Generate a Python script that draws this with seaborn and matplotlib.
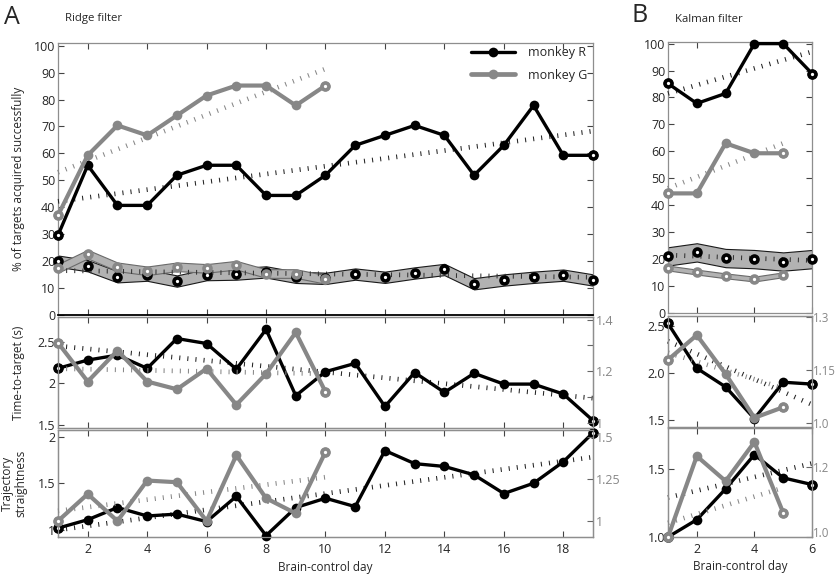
import numpy as np
import matplotlib
matplotlib.use('Agg')
import matplotlib.pyplot as plt
import seaborn as sns

sns.set_style('ticks')
plt.rcParams['font.family'] = ['Open Sans', 'DejaVu Sans']
plt.rcParams['font.size'] = 8

BLACK = '#000000'
GRAY = '#878787'
SPINE = '#8e8e8e'
BAND = '#b2b2b2'

# ---------------- Ridge filter (A) ----------------
ridge_days_r = np.arange(1, 20)
ridge_days_g = np.arange(1, 11)

ridge_success_r = [29.6, 55.6, 40.7, 40.7, 51.9, 55.6, 55.6, 44.4, 44.4, 51.9,
                   63.0, 66.7, 70.4, 66.7, 51.9, 63.0, 77.8, 59.3, 59.3]
ridge_success_g = [37.0, 59.3, 70.4, 66.7, 74.1, 81.5, 85.2, 85.2, 77.8, 85.2]
ridge_chance_r = [20.0, 18.3, 14.2, 14.8, 12.6, 15.0, 15.2, 16.0, 14.0, 13.6,
                  15.2, 14.0, 15.6, 16.9, 11.6, 13.0, 14.0, 14.8, 13.0]
ridge_chance_g = [17.3, 22.6, 17.9, 16.4, 17.9, 17.3, 18.5, 15.4, 15.4, 13.2]

ridge_time_r = [2.18, 2.28, 2.34, 2.18, 2.54, 2.48, 2.17, 2.65, 1.85, 2.14,
                2.24, 1.72, 2.13, 1.89, 2.12, 1.99, 1.99, 1.87, 1.55]
ridge_time_g = [1.31, 1.16, 1.28, 1.16, 1.13, 1.21, 1.07, 1.19, 1.35, 1.12]  # right axis

ridge_straight_r = [1.02, 1.11, 1.24, 1.15, 1.17, 1.09, 1.36, 0.94, 1.24, 1.34,
                    1.25, 1.85, 1.71, 1.68, 1.59, 1.39, 1.50, 1.73, 2.04]
ridge_straight_g = [1.00, 1.16, 1.00, 1.24, 1.23, 1.00, 1.39, 1.135, 1.045, 1.41]  # right axis

# linear trends (start value, end value)
ridge_success_trend_r = [42.2, 68.3]
ridge_success_trend_g = [53.0, 91.4]
ridge_chance_trend_r = [16.5, 14.0]
ridge_time_trend_r = [2.45, 1.82]
ridge_time_trend_g = [1.21, 1.19]
ridge_straight_trend_r = [1.00, 1.78]
ridge_straight_trend_g = [1.06, 1.26]

# ---------------- Kalman filter (B) ----------------
kalman_days_r = np.arange(1, 7)
kalman_days_g = np.arange(1, 6)

kalman_success_r = [85.2, 77.8, 81.5, 100.0, 100.0, 88.9]
kalman_success_g = [44.4, 44.4, 63.0, 59.3, 59.3]
kalman_chance_r = [21.0, 22.5, 20.4, 20.0, 19.1, 20.0]
kalman_chance_g = [16.7, 15.2, 13.8, 12.6, 14.2]

kalman_time_r = [2.53, 2.05, 1.85, 1.51, 1.90, 1.88]
kalman_time_g = [1.18, 1.25, 1.14, 1.016, 1.046]  # right axis

kalman_straight_r = [1.00, 1.127, 1.353, 1.605, 1.434, 1.385]
kalman_straight_g = [1.00, 1.23, 1.159, 1.27, 1.069]  # right axis

kalman_success_trend_r = [81.5, 97.0]
kalman_success_trend_g = [46.3, 63.0]
kalman_chance_trend_r = [21.5, 19.5]
kalman_time_trend_r = [2.34, 1.66]
kalman_time_trend_g = [1.20, 1.10]
kalman_straight_trend_r = [1.29, 1.54]
kalman_straight_trend_g = [1.04, 1.14]

TICK_FS = 9
LABEL_FS = 8.5


def series(ax, x, y, color, lw=2.4):
    sns.lineplot(x=x, y=y, ax=ax, color=color, lw=lw, marker='o', markersize=7,
                 markeredgecolor=color, markeredgewidth=0, legend=False, zorder=4)
    # first / last points drawn as open rings
    ax.plot([x[0], x[-1]], [y[0], y[-1]], 'o', mfc='white', mec=color,
            ms=5, mew=2.6, zorder=5)


def trend(ax, x, ends, color):
    ax.plot([x[0], x[-1]], ends, color=color, lw=3.4, ls=(0, (0.22, 1.5)),
            solid_capstyle='butt', dash_capstyle='butt', zorder=3)


def chance(ax, x, y, half, edge, ring):
    y = np.asarray(y)
    ax.fill_between(x, y - half, y + half, facecolor=BAND, edgecolor=edge,
                    lw=0.8, zorder=2)
    ax.plot(x, y, 'o', mfc='white', mec=ring, ms=5, mew=2.6, zorder=5)


def style(ax, xlim, xticks, ylim, yticks, ylabels=None, right=True, labelx=False):
    ax.set_xlim(xlim)
    ax.set_ylim(ylim)
    ax.set_xticks(xticks)
    ax.set_yticks(yticks)
    if ylabels is not None:
        ax.set_yticklabels(ylabels)
    ax.set_xlabel('')
    ax.set_ylabel('')
    for s in ax.spines.values():
        s.set_color(SPINE)
        s.set_linewidth(0.9)
    ax.tick_params(direction='in', length=4, width=0.8, color='#444444',
                   top=True, right=right, labelsize=TICK_FS, pad=2,
                   labelbottom=labelx)
    ax.tick_params(axis='x', pad=4)


def twin(ax, ylim, yticks, ylabels, minor=None, fs=TICK_FS, pad=2):
    tw = ax.twinx()
    tw.set_ylim(ylim)
    tw.set_yticks(yticks)
    tw.set_yticklabels(ylabels)
    if minor is not None:
        tw.set_yticks(minor, minor=True)
    for s in tw.spines.values():
        s.set_color(SPINE)
        s.set_linewidth(0.9)
    tw.tick_params(axis='y', which='both', direction='in', length=4, width=0.8,
                   color='#666666', labelcolor=GRAY, labelsize=fs, pad=pad)
    return tw


W, H = 837, 574
fig = plt.figure(figsize=(W / 100, H / 100), dpi=100)


def box(l, r, t, b):
    return [l / W, 1 - b / H, (r - l) / W, (b - t) / H]


# ---------------- panel A ----------------
xa = (1, 19)
xta = list(range(2, 19, 2))
a1 = fig.add_axes(box(58, 593, 43, 315))
a2 = fig.add_axes(box(58, 593, 317, 428))
a3 = fig.add_axes(box(58, 593, 430, 537))

chance(a1, ridge_days_r, ridge_chance_r, 2.1, '#1a1a1a', BLACK)
chance(a1, ridge_days_g, ridge_chance_g, 1.6, '#6a6a6a', GRAY)
trend(a1, ridge_days_r, ridge_chance_trend_r, '#333333')
trend(a1, ridge_days_r, ridge_success_trend_r, '#222222')
trend(a1, ridge_days_g, ridge_success_trend_g, GRAY)
series(a1, ridge_days_r, ridge_success_r, BLACK)
series(a1, ridge_days_g, ridge_success_g, GRAY, lw=3)
style(a1, xa, xta, (0, 101), list(range(0, 101, 10)))
a1.spines['bottom'].set_color(BLACK)
a1.spines['bottom'].set_linewidth(1.3)
a1.set_ylabel('% of targets acquired successfully', fontsize=LABEL_FS)
a1.yaxis.set_label_coords(-0.062, 0.5)

leg_r = plt.Line2D([], [], color=BLACK, lw=2.4, marker='o', ms=7, mew=0)
leg_g = plt.Line2D([], [], color=GRAY, lw=3.4, marker='o', ms=7, mew=0)
a1.legend([leg_r, leg_g], ['monkey R', 'monkey G'], frameon=False,
          loc='upper right', bbox_to_anchor=(1.005, 1.02), handlelength=3.5,
          fontsize=9, labelspacing=0.75, handletextpad=1.0, borderaxespad=0.3)

style(a2, xa, xta, (1.46, 2.80), [1.5, 2, 2.5], ['1.5', '2', '2.5'], right=False)
trend(a2, ridge_days_r, ridge_time_trend_r, '#222222')
series(a2, ridge_days_r, ridge_time_r, BLACK)
t2 = twin(a2, (0.98, 1.41), [1, 1.2, 1.4], ['1', '1.2', '1.4'], minor=[1.1, 1.3])
trend(t2, ridge_days_g, ridge_time_trend_g, GRAY)
series(t2, ridge_days_g, ridge_time_g, GRAY, lw=3)
t2.set_ylabel('')
a2.set_ylabel('Time-to-target (s)', fontsize=LABEL_FS)
a2.yaxis.set_label_coords(-0.062, 0.5)

style(a3, xa, xta, (0.925, 2.07), [1, 1.5, 2], ['1', '1.5', '2'], right=False, labelx=True)
trend(a3, ridge_days_r, ridge_straight_trend_r, '#222222')
series(a3, ridge_days_r, ridge_straight_r, BLACK)
t3 = twin(a3, (0.905, 1.54), [1, 1.25, 1.5], ['1', '1.25', '1.5'])
trend(t3, ridge_days_g, ridge_straight_trend_g, GRAY)
series(t3, ridge_days_g, ridge_straight_g, GRAY, lw=3)
t3.set_ylabel('')
a3.set_ylabel('Trajectory\nstraightness', fontsize=LABEL_FS, linespacing=1.05)
a3.yaxis.set_label_coords(-0.058, 0.5)
a3.set_xlabel('Brain-control day', fontsize=LABEL_FS)
a3.xaxis.set_label_coords(0.5, -0.22)

# ---------------- panel B ----------------
xb = (1, 6)
xtb = [2, 4, 6]
b1 = fig.add_axes(box(668, 812, 42, 313))
b2 = fig.add_axes(box(668, 812, 316, 427))
b3 = fig.add_axes(box(668, 812, 428, 537))

chance(b1, kalman_days_r, kalman_chance_r, 3.4, '#1a1a1a', BLACK)
chance(b1, kalman_days_g, kalman_chance_g, 0.9, '#6a6a6a', GRAY)
trend(b1, kalman_days_r, kalman_chance_trend_r, '#333333')
trend(b1, kalman_days_r, kalman_success_trend_r, '#222222')
trend(b1, kalman_days_g, kalman_success_trend_g, GRAY)
series(b1, kalman_days_r, kalman_success_r, BLACK)
series(b1, kalman_days_g, kalman_success_g, GRAY, lw=3)
style(b1, xb, xtb, (0, 100.6), list(range(0, 101, 10)))

style(b2, xb, xtb, (1.42, 2.61), [1.5, 2.0, 2.5], ['1.5', '2.0', '2.5'], right=False)
trend(b2, kalman_days_r, kalman_time_trend_r, '#222222')
series(b2, kalman_days_r, kalman_time_r, BLACK)
u2 = twin(b2, (0.99, 1.304), [1.0, 1.15, 1.3], ['1.0', '1.15', '1.3'], fs=8.3, pad=1)
trend(u2, kalman_days_g, kalman_time_trend_g, GRAY)
series(u2, kalman_days_g, kalman_time_g, GRAY, lw=3)
u2.set_ylabel('')

style(b3, xb, xtb, (1.0, 1.80), [1.0, 1.5], ['1.0', '1.5'], right=False, labelx=True)
trend(b3, kalman_days_r, kalman_straight_trend_r, '#222222')
series(b3, kalman_days_r, kalman_straight_r, BLACK)
u3 = twin(b3, (1.0, 1.31), [1.0, 1.2], ['1.0', '1.2'], fs=8.3, pad=1)
for lab in u3.get_yticklabels():
    if lab.get_text() == '1.0':
        lab.set_va('baseline')
trend(u3, kalman_days_g, kalman_straight_trend_g, GRAY)
series(u3, kalman_days_g, kalman_straight_g, GRAY, lw=3)
u3.set_ylabel('')
b3.set_xlabel('Brain-control day', fontsize=LABEL_FS)
b3.xaxis.set_label_coords(0.5, -0.215)

for a in (a1, a2, a3, t2, t3, b1, b2, b3, u2, u3):
    for ln in a.lines:
        ln.set_clip_on(False)

# panel letters and titles
fig.text(4 / W, 1 - 18 / H, 'A', fontsize=18, va='center', ha='left')
fig.text(65 / W, 1 - 19 / H, 'Ridge filter', fontsize=8.2, va='center', ha='left')
fig.text(632 / W, 1 - 16 / H, 'B', fontsize=18, va='center', ha='left')
fig.text(675 / W, 1 - 19 / H, 'Kalman filter', fontsize=8.2, va='center', ha='left')

fig.savefig('out.png', dpi=100, facecolor='white')
